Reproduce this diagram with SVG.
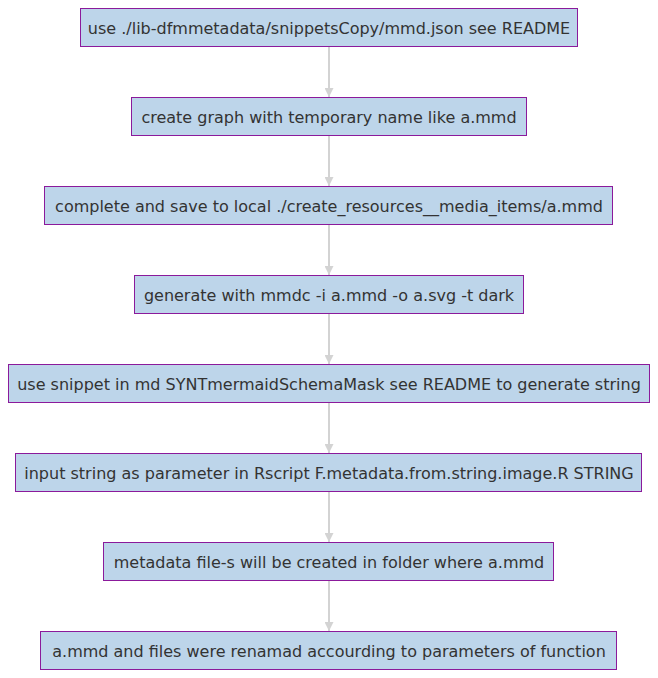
<svg xmlns="http://www.w3.org/2000/svg" width="658" height="678" viewBox="0 0 658 678">
<style>
.node rect{fill:#bdd5ea;stroke:#8b1a9b;stroke-width:1px}
.node text{font-family:"DejaVu Sans",Verdana,sans-serif;font-size:16px;fill:#333333;text-anchor:middle;dominant-baseline:central}
.edges path{stroke:#d3d3d3;stroke-width:2px;fill:none}
</style>
<defs>
<marker id="arrow" viewBox="0 0 10 10" refX="10" refY="5" markerUnits="userSpaceOnUse" markerWidth="9" markerHeight="9" orient="auto">
<path d="M0,0 L10,5 L0,10 z" fill="#d3d3d3"/>
</marker>
</defs>
<rect width="658" height="678" fill="#ffffff"/>
<g class="edges">
<path d="M329,47 V97" marker-end="url(#arrow)"/>
<path d="M329,136 V186" marker-end="url(#arrow)"/>
<path d="M329,225 V275" marker-end="url(#arrow)"/>
<path d="M329,314 V364" marker-end="url(#arrow)"/>
<path d="M329,403 V453" marker-end="url(#arrow)"/>
<path d="M329,492 V542" marker-end="url(#arrow)"/>
<path d="M329,581 V631" marker-end="url(#arrow)"/>
</g>
<g id="n1" class="node"><rect x="80.5" y="8.5" width="497" height="38"/><text x="329" y="28">use ./lib-dfmmetadata/snippetsCopy/mmd.json see README</text></g>
<g id="n2" class="node"><rect x="131.5" y="97.5" width="395" height="38"/><text x="329" y="117">create graph with temporary name like a.mmd</text></g>
<g id="n3" class="node"><rect x="44.5" y="186.5" width="568" height="38"/><text x="329" y="206">complete and save to local ./create_resources__media_items/a.mmd</text></g>
<g id="n4" class="node"><rect x="134.5" y="275.5" width="389" height="38"/><text x="329" y="295">generate with mmdc -i a.mmd -o a.svg -t dark</text></g>
<g id="n5" class="node"><rect x="8.5" y="364.5" width="641" height="38"/><text x="329" y="384">use snippet in md SYNTmermaidSchemaMask see README to generate string</text></g>
<g id="n6" class="node"><rect x="15.5" y="453.5" width="626" height="38"/><text x="329" y="473">input string as parameter in Rscript F.metadata.from.string.image.R STRING</text></g>
<g id="n7" class="node"><rect x="103.5" y="542.5" width="450" height="38"/><text x="329" y="562">metadata file-s will be created in folder where a.mmd</text></g>
<g id="n8" class="node"><rect x="40.5" y="631.5" width="576" height="38"/><text x="329" y="651">a.mmd and files were renamad accourding to parameters of function</text></g>
</svg>
